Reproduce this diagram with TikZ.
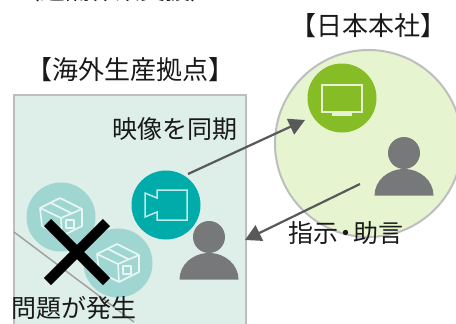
\documentclass[tikz,border=0pt]{standalone}
\usepackage{fontspec}
\setmainfont{Noto Sans CJK JP}
\usetikzlibrary{arrows.meta}
\definecolor{zonebg}{HTML}{DEEEE9}
\definecolor{zoneln}{HTML}{BDBFBE}
\definecolor{hqbg}{HTML}{E6F4D0}
\definecolor{tealc}{HTML}{00ACAA}
\definecolor{lteal}{HTML}{A0D6D2}
\definecolor{limec}{HTML}{86BC25}
\definecolor{pers}{HTML}{76787A}
\definecolor{arrowc}{HTML}{58595B}
\tikzset{
 x=1pt,y=-1pt,
 lab/.style={inner sep=0pt,font=\fontsize{25}{25}\selectfont,text=black!90},
 head/.style={inner sep=0pt,font=\fontsize{26}{26}\selectfont,text=black!90},
 link/.style={draw=arrowc,line width=2.2pt,-{Triangle[length=16pt,width=17pt]}},
}
\newcommand{\personicon}[2]{%
 \fill[pers] (#1,#2) circle (16);
 \fill[pers] (#1-29.5,#2+42.5) arc[start angle=180,end angle=360,x radius=29.5,y radius=26.5] -- cycle;
}
\newcommand{\boxicon}[2]{%
 \begin{scope}[shift={(#1,#2)}]
 \fill[lteal] (0,0) circle (34.5);
 \draw[white!78!lteal,line width=1.6pt,line join=round] (-21,-9) -- (-1,-19) -- (21,-8) -- (21,9) -- (1,19) -- (-19,9) -- cycle
   (-21,-9) -- (0,1) -- (21,-8) (0,1) -- (1,19) (-10,-14) -- (10,-4) (5,3) rectangle (13,11);
 \end{scope}}
\begin{document}
\begin{tikzpicture}
\useasboundingbox (0,0) rectangle (456,324);
\fill[white] (0,0) rectangle (456,324);
\node[lab,anchor=base west] (t0) at (15,0) {（遠隔作業支援）};
\path[fill=zonebg,draw=zoneln,line width=2pt] (14,340) -- (14,95) -- (246,95) -- (246,340);
\node[head] (t1) at (131,70) {【海外生産拠点】};
\node[head] (t2) at (368.5,26) {【日本本社】};
\node[lab] (t3) at (175,129) {映像を同期};
\node[circle,minimum size=187pt,inner sep=0pt,fill=hqbg,draw=zoneln,line width=2pt] (hq) at (368.5,143.5) {};
\draw[zoneln!85!black,line width=1.5pt] (14,232) -- (134,322);
\boxicon{61}{217}\boxicon{118}{263}
\node[circle,minimum size=69pt,inner sep=0pt,fill=tealc] (cam) at (166,205) {};
\begin{scope}[shift={(166,205)}]
\draw[white!75!tealc,line width=1.5pt,line join=miter] (-9,-15) -- (21,-15) -- (21,15) -- (-9,15) -- (-9,7) -- (-21,12) -- (-21,-12) -- (-9,-7) -- cycle;
\end{scope}
\personicon{209}{237}
\node[circle,minimum size=69pt,inner sep=0pt,fill=limec] (tv) at (342,98) {};
\begin{scope}[shift={(342,98)}]
\draw[white!80!limec,line width=1.7pt] (-20,-13) rectangle (20,14);
\fill[white!80!limec] (-10,14) rectangle (10,18);
\end{scope}
\personicon{404}{153}
\coordinate (a1) at (188,174);
\coordinate (a2) at (305,120);
\coordinate (b1) at (360,184);
\coordinate (b2) at (245,240);
\draw[link] (a1) -- (a2);
\draw[link] (b1) -- (b2);
\node[lab] (t4) at (345.5,233) {指示\hspace{-5pt}・\hspace{-5pt}助言};
\node[lab] (t5) at (74.5,308) {問題が発生};
\draw[black,line width=10pt] (47.5,222.5) -- (106.5,281.5) (106.5,222.5) -- (47.5,281.5);
\end{tikzpicture}
\end{document}
